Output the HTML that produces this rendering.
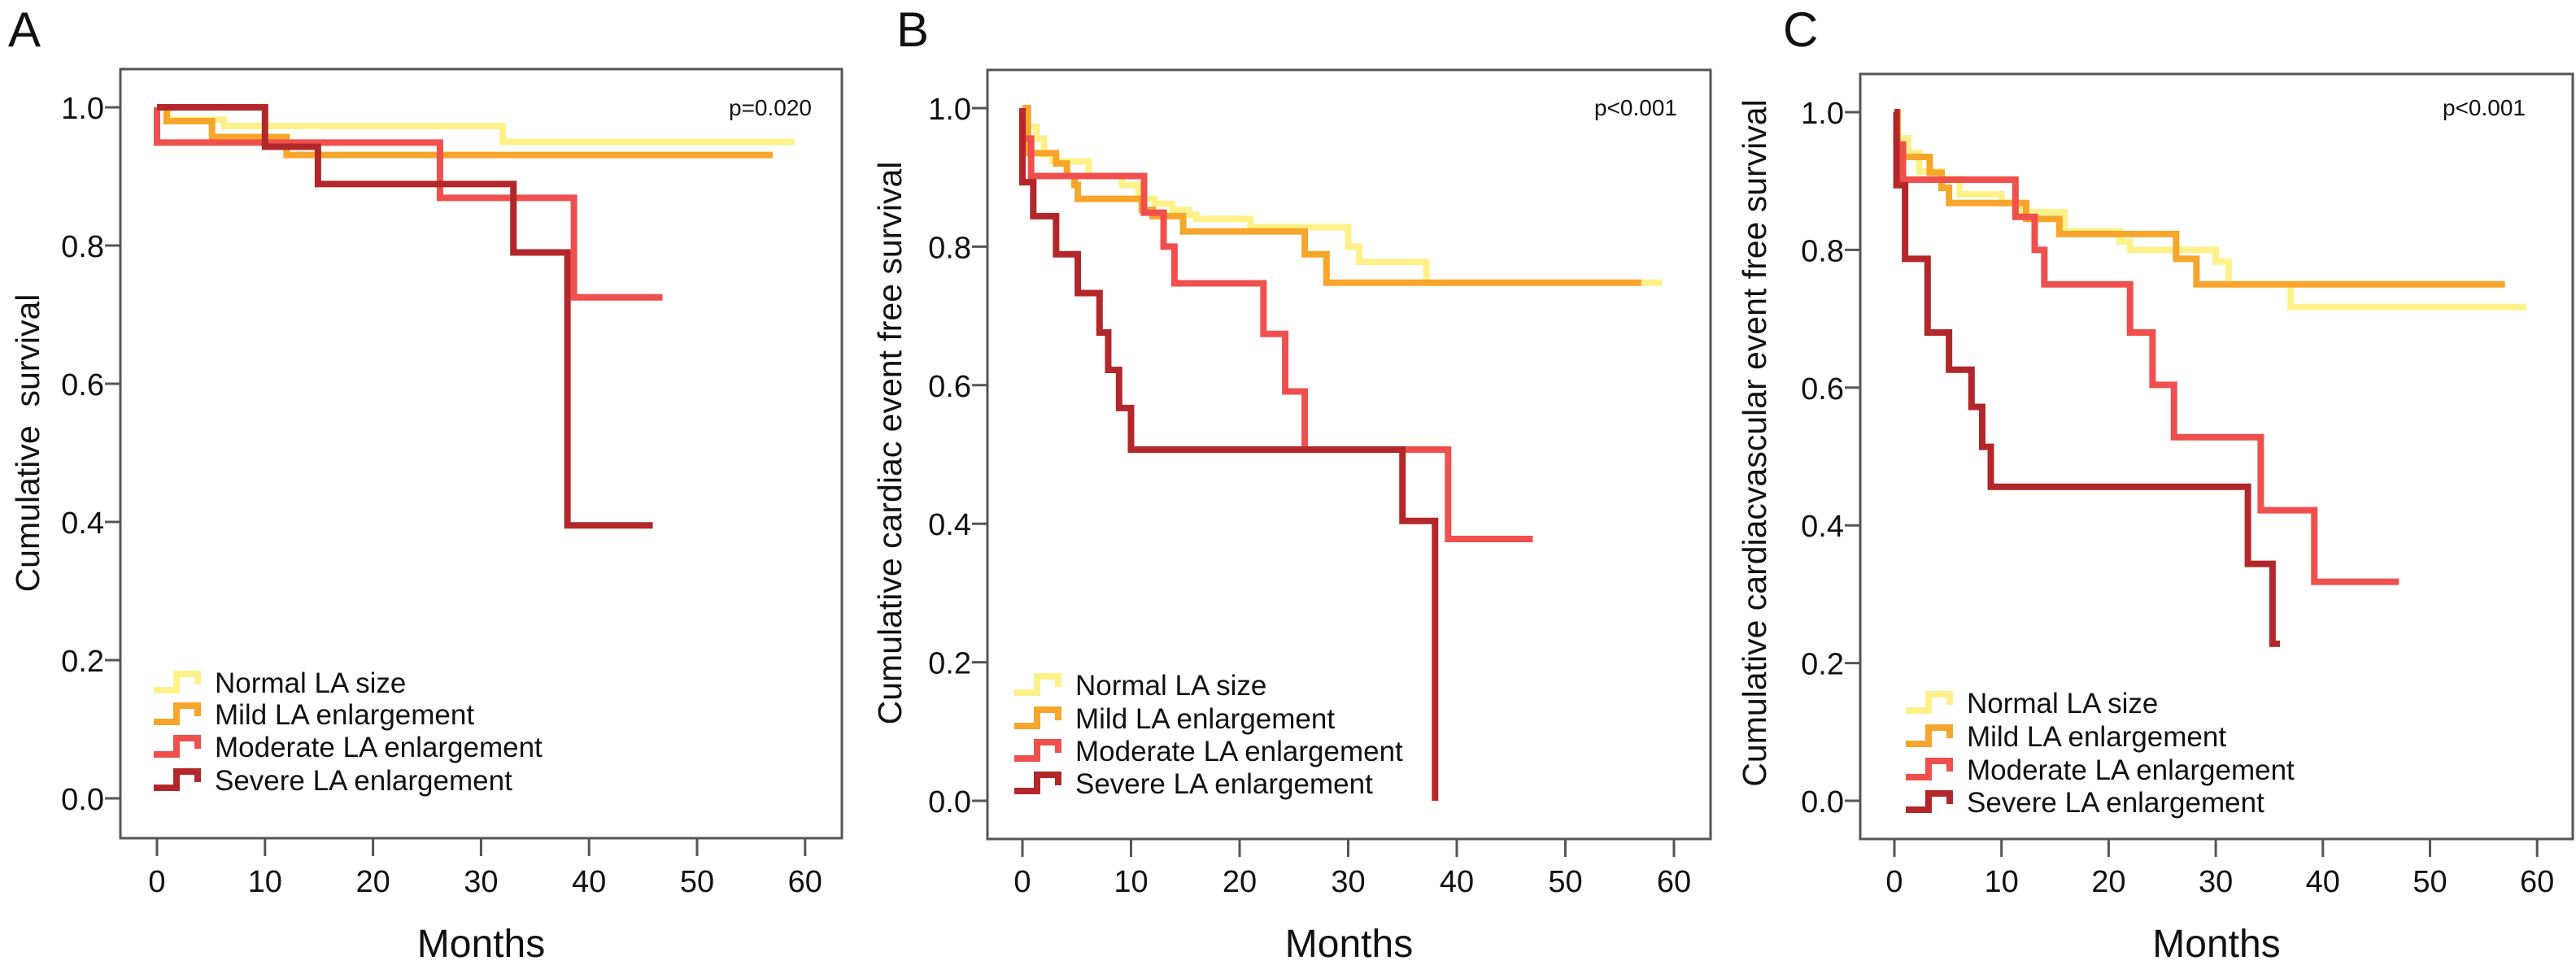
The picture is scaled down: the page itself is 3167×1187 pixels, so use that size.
<!DOCTYPE html>
<html><head><meta charset="utf-8">
<style>
html,body{margin:0;padding:0;background:#fff;}
svg{display:block;font-family:"Liberation Sans",Arial,sans-serif;}
</style></head>
<body>
<svg id="fig" width="3167" height="1187" viewBox="0 0 3167 1187" xmlns="http://www.w3.org/2000/svg"></svg>
<script>
// ---- data: step times (months) and survival after each step; last time = end of follow-up ----
const groupNames = ["Normal LA size","Mild LA enlargement","Moderate LA enlargement","Severe LA enlargement"];
const pValues = ["p=0.020","p<0.001","p<0.001"];
const yTitles = ["Cumulative  survival","Cumulative cardiac event free survival","Cumulative cardiacvascular event free survival"];
const xTicks = [0,10,20,30,40,50,60];
const yTicks = [0.0,0.2,0.4,0.6,0.8,1.0];

const aNormalT = [1,6.2,32,59];        const aNormalS = [0.982,0.973,0.950];
const aMildT = [0.9,5.1,12,57];        const aMildS = [0.98,0.957,0.931];
const aModT = [0,26.2,38.6,46.8];      const aModS = [0.949,0.869,0.725];
const aSevT = [10,14.9,33,38,45.9];    const aSevS = [0.943,0.889,0.790,0.395];

const bNormalT = [0.3,1.3,2,2.8,6.1,9.2,10.7,12.2,13.8,15.3,16,21,30,31,37.2,58.9];
const bNormalS = [0.973,0.956,0.933,0.923,0.902,0.889,0.869,0.862,0.853,0.846,0.84,0.828,0.80,0.778,0.748];
const bMildT = [0.5,3.1,4.1,4.8,5.1,11,12,14.8,26,28,57];
const bMildS = [0.935,0.92,0.902,0.889,0.869,0.853,0.844,0.822,0.789,0.748];
const bModT = [0,0.8,11.2,13,14,22.2,24.2,26,39.2,47];
const bModS = [0.956,0.902,0.849,0.80,0.747,0.674,0.591,0.507,0.378];
const bSevT = [0,1,3.1,5.1,7.1,7.9,8.9,10,35,38,38];
const bSevS = [0.893,0.844,0.789,0.733,0.676,0.622,0.567,0.507,0.404,0.0];

const cNormalT = [0.3,1.3,2.3,4.4,6.1,10,11.8,15.9,21,22,30,31.2,37,59];
const cNormalS = [0.962,0.941,0.914,0.903,0.881,0.868,0.855,0.827,0.812,0.80,0.783,0.75,0.717];
const cMildT = [0.3,3.3,4.4,5.1,12.3,15.4,26.3,28.2,57];
const cMildS = [0.935,0.912,0.89,0.868,0.845,0.823,0.787,0.75];
const cModT = [0.2,0.8,11.3,13.1,14,22,24.1,26.1,34.2,39.2,47.1];
const cModS = [0.953,0.902,0.848,0.80,0.75,0.68,0.604,0.528,0.422,0.318];
const cSevT = [0.2,1,3.1,5.1,7.2,8.2,9,33,35.3,36];
const cSevS = [0.894,0.787,0.68,0.626,0.572,0.514,0.456,0.344,0.228];

const colors = ["#fff18a","#f7a52b","#f0504d","#b3272a"];
const panels = [
  {letter:"A", bx0:148, bx1:1035, by0:85, by1:1031, x0:193, pxm:13.28, yTop:132, yBot:982, lx:189, ly:[840,879,919,960], series:[[aNormalT,aNormalS],[aMildT,aMildS],[aModT,aModS],[aSevT,aSevS]], lettX:10, pX:998, titleX:34},
  {letter:"B", bx0:1214, bx1:2103, by0:86, by1:1032, x0:1257, pxm:13.35, yTop:133, yBot:985, lx:1247, ly:[843,884,924,964], series:[[bNormalT,bNormalS],[bMildT,bMildS],[bModT,bModS],[bSevT,bSevS]], lettX:1102, pX:2062, titleX:1094},
  {letter:"C", bx0:2287, bx1:3163, by0:91, by1:1032, x0:2329, pxm:13.17, yTop:138, yBot:985, lx:2343, ly:[865,906,947,987], series:[[cNormalT,cNormalS],[cMildT,cMildS],[cModT,cModS],[cSevT,cSevS]], lettX:2192, pX:3105, titleX:2157}
];

const NS = "http://www.w3.org/2000/svg";
const svg = document.getElementById("fig");
function mk(tag, attrs, parent){ const e=document.createElementNS(NS,tag); for(const k in attrs) e.setAttribute(k,attrs[k]); (parent||svg).appendChild(e); return e; }

panels.forEach((p,pi)=>{
  const xs = m => p.x0 + m*p.pxm;
  const ys = v => p.yBot - v*(p.yBot-p.yTop);
  const g = mk("g",{});
  
  

  const lt = mk("text",{x:p.lettX, y:57, "font-size":60, fill:"#111"}, g);
  lt.textContent = p.letter;
  
  

  p.series.forEach((s,si)=>{
    const T=s[0], S=s[1];
    let d = "M"+xs(0)+","+ys(1);
    for(let i=0;i<S.length;i++){ d += " H"+xs(T[i])+" V"+ys(S[i]); }
    d += " H"+xs(T[T.length-1]);
    const path = mk("path",{d:d, fill:"none", stroke:colors[si], "stroke-width":8, "stroke-linejoin":"miter"}, g);
    
    
  });

  const box = mk("rect",{x:p.bx0, y:p.by0, width:p.bx1-p.bx0, height:p.by1-p.by0, fill:"none", stroke:"#555", "stroke-width":3}, g);
  
  

  xTicks.forEach(t=>{
    const tk = mk("line",{x1:xs(t), x2:xs(t), y1:p.by1, y2:p.by1+22, stroke:"#555","stroke-width":3}, g);
    
    
    const tl = mk("text",{x:xs(t), y:1097, "font-size":38, "text-anchor":"middle", fill:"#111"}, g);
    tl.textContent = t;
    
    
  });
  yTicks.forEach(t=>{
    const tk = mk("line",{x1:p.bx0-19, x2:p.bx0, y1:ys(t), y2:ys(t), stroke:"#555","stroke-width":3}, g);
    
    
    const tl = mk("text",{x:p.bx0-20, y:ys(t)+14, "font-size":38, "text-anchor":"end", fill:"#111"}, g);
    tl.textContent = t.toFixed(1);
    
    
  });

  const xt = mk("text",{x:(p.bx0+p.bx1)/2, y:1177, "font-size":48, "text-anchor":"middle", fill:"#111"}, g);
  xt.textContent = "Months";
  
  

  const yt = mk("text",{x:0, y:0, "font-size":41, "text-anchor":"middle", fill:"#111", transform:"translate("+(p.titleX+14)+",545) rotate(-90)", style:"white-space:pre"}, g);
  yt.textContent = yTitles[pi];
  
  

  const pv = mk("text",{x:p.pX, y:142, "font-size":28, "text-anchor":"end", fill:"#111"}, g);
  pv.textContent = pValues[pi];
  
  

  groupNames.forEach((n,si)=>{
    const cy = p.ly[si];
    const lg = mk("g",{}, g);
    
    
    const x = p.lx;
    mk("path",{d:"M"+x+","+(cy+9)+" H"+(x+28)+" V"+(cy-11)+" H"+(x+54)+" V"+(cy+2), fill:"none", stroke:colors[si], "stroke-width":8}, lg);
    const tx = mk("text",{x:x+75, y:cy+12, "font-size":35, fill:"#111"}, lg);
    tx.textContent = n;
    
    
  });
});
</script>
</body></html>
